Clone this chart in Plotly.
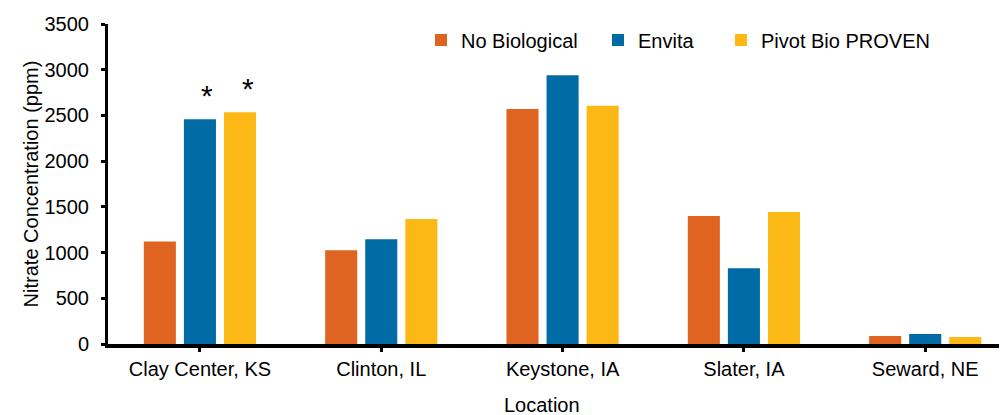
import plotly.graph_objects as go

locations = ["Clay Center, KS", "Clinton, IL", "Keystone, IA", "Slater, IA", "Seward, NE"]
no_biological = [1120, 1025, 2571, 1400, 88]
envita = [2458, 1145, 2940, 828, 109]
pivot_bio = [2535, 1368, 2607, 1444, 77]

series_names = ["No Biological", "Envita", "Pivot Bio PROVEN"]
colors = ["#E06421", "#006BA4", "#FCB815"]
y_ticks = [0, 500, 1000, 1500, 2000, 2500, 3000, 3500]

# page has an 8px body margin; work in screen pixels and subtract it
OFF = 8
W, H = 1007 - OFF, 415 - OFF
ML, MT = 108 - OFF, 24 - OFF
MB = H - (344 - OFF)
PW, PH = W - ML, H - MT - MB
FONT = "Liberation Sans, Arial, sans-serif"
FS = 20


def px_x(sx):
    return (sx - OFF - ML) / PW


def px_y(sy):
    return (H - MB - (sy - OFF)) / PH


fig = go.Figure()
legends = ["legend", "legend2", "legend3"]
for name, vals, col, lg in zip(series_names, [no_biological, envita, pivot_bio], colors, legends):
    fig.add_trace(go.Bar(x=locations, y=vals, name=name, marker=dict(color=col, line=dict(width=0)),
                         legend=lg, showlegend=True))

# significance asterisks
fig.add_annotation(x=locations[0], y=envita[0], xref="x", yref="y", text="*", showarrow=False,
                   xshift=7, yshift=24, font=dict(size=30, color="black", family=FONT), yanchor="middle")
fig.add_annotation(x=locations[0], y=pivot_bio[0], xref="x", yref="y", text="*", showarrow=False,
                   xshift=48, yshift=24, font=dict(size=30, color="black", family=FONT), yanchor="middle")

# x-axis title
fig.add_annotation(x=px_x(542), y=px_y(405), xref="paper", yref="paper", text="Location",
                   showarrow=False, font=dict(size=FS, color="black", family=FONT),
                   xanchor="center", yanchor="middle")

legend_common = dict(orientation="h", xref="paper", yref="paper", xanchor="left",
                     yanchor="middle", font=dict(size=FS, color="black", family=FONT),
                     bgcolor="rgba(0,0,0,0)", itemclick=False)
legend_sx = [421, 598, 721]
ly = px_y(40)
fig.update_layout(
    legend=dict(x=px_x(legend_sx[0]), y=ly, **legend_common),
    legend2=dict(x=px_x(legend_sx[1]), y=ly, **legend_common),
    legend3=dict(x=px_x(legend_sx[2]), y=ly, **legend_common),
)

fig.update_layout(
    width=W, height=H, showlegend=True,
    margin=dict(l=ML, r=0, t=MT, b=MB, pad=0, autoexpand=False),
    paper_bgcolor="white", plot_bgcolor="white",
    barmode="group", bargap=0.337, bargroupgap=0.2,
    font=dict(family=FONT, color="black", size=FS),
    xaxis=dict(range=[-0.507, 4.451], showline=True, linecolor="black", linewidth=3.5,
               ticks="outside", ticklen=4, tickwidth=3, tickcolor="black",
               tickfont=dict(size=FS, family=FONT, color="black"), ticklabelstandoff=0,
               showgrid=False, zeroline=False),
    yaxis=dict(range=[0, 3500], tickvals=y_ticks, showline=True, linecolor="black", linewidth=3,
               ticks="outside", ticklen=4, tickwidth=3, tickcolor="black",
               tickfont=dict(size=FS, family=FONT, color="black"), ticklabelstandoff=8,
               showgrid=False, zeroline=False,
               title=dict(text="Nitrate Concentration (ppm)", font=dict(size=FS, family=FONT, color="black"),
                          standoff=1)),
)

fig.write_html("out.html")
